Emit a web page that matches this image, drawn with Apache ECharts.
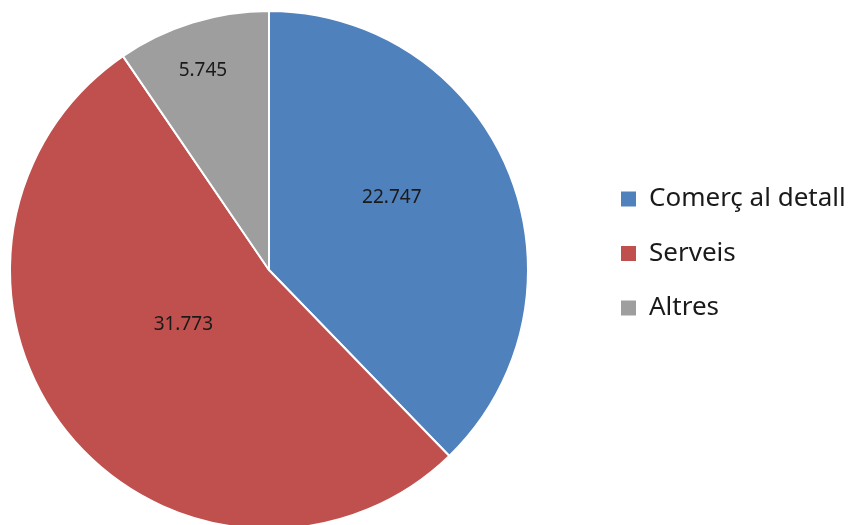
<!DOCTYPE html>
<html><head><meta charset="utf-8">
<script src="https://cdn.jsdelivr.net/npm/echarts@6/dist/echarts.min.js"></script>
<style>html,body{margin:0;padding:0;background:#fff}#c{width:850px;height:525px}</style>
</head><body><div id="c"></div>
<script>
const categories = ['Comerç al detall', 'Serveis', 'Altres'];
const values = [22747, 31773, 5745];
const colors = ['#4F81BD', '#C0504D', '#9E9E9E'];
const labelOffsets = [[0, -23], [17, -29], [-27, -73]];

function fmt(v) {
  return String(v).replace(/\B(?=(\d{3})+(?!\d))/g, '.');
}

const chart = echarts.init(document.getElementById('c'), null, {renderer: 'canvas'});
chart.setOption({
  animation: false,
  legend: {
    orient: 'vertical',
    left: 614,
    top: 181,
    itemWidth: 17,
    itemHeight: 17,
    itemGap: 28.5,
    icon: 'rect',
    textStyle: {fontFamily: 'Noto Sans', fontSize: 26, color: '#1a1a1a', lineHeight: 17, padding: [0, 0, 0, 7]},
    data: categories
  },
  series: [{
    type: 'pie',
    center: [269, 270],
    radius: [0, 259],
    startAngle: 90,
    clockwise: true,
    itemStyle: {borderColor: '#ffffff', borderWidth: 2},
    label: {
      show: true,
      position: 'inside',
      fontFamily: 'Noto Sans',
      fontSize: 19,
      color: '#1a1a1a',
      formatter: p => fmt(p.value)
    },
    labelLayout: p => ({dx: labelOffsets[p.dataIndex][0], dy: labelOffsets[p.dataIndex][1]}),
    labelLine: {show: false},
    emphasis: {disabled: true},
    data: categories.map((n, i) => ({name: n, value: values[i], itemStyle: {color: colors[i]}}))
  }]
});
</script></body></html>
